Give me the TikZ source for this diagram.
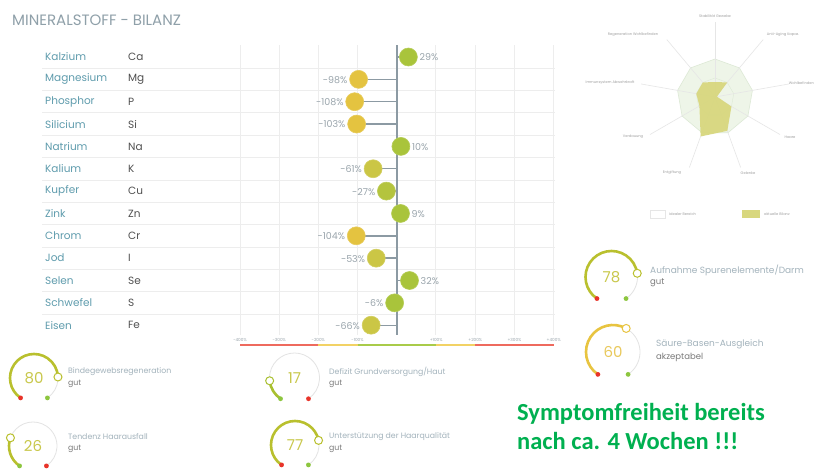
\documentclass[tikz,border=0pt]{standalone}
\usepackage{fontspec}
\setmainfont{Poppins}
\newfontfamily\calib{Carlito}
\definecolor{titlec}{HTML}{8FA0A9}
\definecolor{namec}{HTML}{5F9CAD}
\definecolor{symc}{HTML}{505050}
\definecolor{gridc}{HTML}{EDEDED}
\definecolor{axisc}{HTML}{8C9AA3}
\definecolor{valc}{HTML}{9AA5AC}
\definecolor{dgreen}{HTML}{A9C43B}
\definecolor{dlime}{HTML}{B4C43E}
\definecolor{dyellow}{HTML}{E4C340}
\definecolor{dolive}{HTML}{CBC645}
\definecolor{barred}{HTML}{EE6A5E}
\definecolor{baryellow}{HTML}{F2D265}
\definecolor{bargreen}{HTML}{A9CB4A}
\definecolor{spokec}{HTML}{E6E6E6}
\definecolor{idealfill}{HTML}{EEF5E8}
\definecolor{idealline}{HTML}{DDE9D6}
\definecolor{actualfill}{HTML}{D8D77E}
\definecolor{radtext}{HTML}{A0A0A0}
\definecolor{gaugegray}{HTML}{E3E3E3}
\definecolor{gtitle}{HTML}{A3B3BC}
\definecolor{gsub}{HTML}{7A7A7A}
\definecolor{gred}{HTML}{E8342A}
\definecolor{ggreen}{HTML}{8DC63F}
\definecolor{arcolive}{HTML}{B9C02E}
\definecolor{arcgreen}{HTML}{A9C030}
\definecolor{arcyellow}{HTML}{E8C440}
\definecolor{numolive}{HTML}{C9C84C}
\definecolor{numyellow}{HTML}{E9C95C}
\definecolor{bigtext}{HTML}{00B050}
\tikzset{
  namestyle/.style={anchor=west, inner sep=0pt, text=namec, font=\fontsize{10.5}{12}\selectfont},
  symstyle/.style={anchor=west, inner sep=0pt, text=symc, font=\fontsize{10.5}{12}\selectfont},
  gridline/.style={draw=gridc, line width=0.8pt},
  stem/.style={draw=axisc, line width=1.4pt},
  dotnode/.style={circle, minimum size=18pt, inner sep=0pt},
  valstyle/.style={inner sep=0pt, text=valc, font=\fontsize{9.5}{11}\selectfont},
  tickstyle/.style={inner sep=0pt, text=valc, font=\fontsize{4.2}{5}\selectfont},
  radlabel/.style={inner sep=0pt, text=radtext, font=\fontsize{3.6}{4}\selectfont},
  gtitlestyle/.style={anchor=west, inner sep=0pt, text=gtitle},
  gsubstyle/.style={anchor=west, inner sep=0pt, text=gsub},
}
% cx, cy, value, arc colour, number colour, left dot, right dot, radius
\newcommand{\gaugedraw}[8]{%
  \draw[gaugegray, line width=0.8pt] (#1,#2) ++(124:#8) arc[start angle=124, end angle=416, radius=#8];
  \draw[#4, line width=2.6pt] (#1,#2) ++(124:#8) arc[start angle=124, end angle={124+2.92*#3}, radius=#8];
  \draw[#4, line width=1pt, fill=white] (#1,#2) ++({124+2.92*#3}:#8) circle[radius=4];
  \fill[#6] (#1,#2) ++(124:#8) circle[radius=2.4];
  \fill[#7] (#1,#2) ++(56:#8) circle[radius=2.4];
  \node[inner sep=0pt, text=#5, font=\fontsize{15}{16}\selectfont] (g#3) at (#1,#2) {#3};
}
\begin{document}
\begin{tikzpicture}[x=1pt,y=-1pt]
\useasboundingbox (0,0) rectangle (815,469);
\fill[white] (0,0) rectangle (815,469);

% title
\node[anchor=west, inner sep=0pt, text=titlec, font=\fontsize{15}{16}\selectfont] (title) at (12,20) {MINERALSTOFF - BILANZ};

% grid
\foreach \k in {0,...,8} {
  \draw[gridline] ({240+39.17*\k},45) -- ({240+39.17*\k},335);
}
\foreach \k in {1,...,12} {
  \draw[gridline] (42,{45.8+22.35*\k}) -- (555,{45.8+22.35*\k});
}
\draw[axisc, line width=1.3pt] (397,45) -- (397,335);

% rows
\foreach \nm/\sy/\v/\c/\anc/\off [count=\i from 0] in {
  Kalzium/Ca/29/dgreen/west/11,
  Magnesium/Mg/-98/dyellow/east/-11,
  Phosphor/P/-108/dyellow/east/-11,
  Silicium/Si/-103/dyellow/east/-11,
  Natrium/Na/10/dgreen/west/11,
  Kalium/K/-61/dolive/east/-11,
  Kupfer/Cu/-27/dlime/east/-11,
  Zink/Zn/9/dgreen/west/11,
  Chrom/Cr/-104/dyellow/east/-11,
  Jod/I/-53/dolive/east/-11,
  Selen/Se/32/dgreen/west/11,
  Schwefel/S/-6/dgreen/east/-11,
  Eisen/Fe/-66/dolive/east/-11} {
  \pgfmathsetmacro\yy{57+22.35*\i}
  \pgfmathsetmacro\xx{397+0.3917*\v}
  \node[namestyle] (n\i) at (45,\yy) {\nm};
  \node[symstyle] (s\i) at (128,\yy) {\sy};
  \coordinate (a\i) at (397,\yy);
  \coordinate (p\i) at (\xx,\yy);
  \draw[stem] (a\i) -- (p\i);
  \node[dotnode, fill=\c, draw=\c!85!white, line width=0.6pt] (d\i) at (p\i) {};
  \node[valstyle, anchor=\anc] (v\i) at ({\xx+\off},{\yy+0.5}) {\v\%};
}

% scale labels and colour bar
\foreach \t/\lab [count=\j] in {240/-400\%, 279.2/-300\%, 318.3/-200\%, 357.5/-100\%, 436.2/+100\%, 475.3/+200\%, 514.5/+300\%, 553.7/+400\%} {
  \node[tickstyle] (tk\j) at (\t,340) {\lab};
}
\coordinate (b0) at (240,344.5);
\coordinate (b1) at (318.3,344.5);
\coordinate (b2) at (357.5,344.5);
\coordinate (b3) at (436.2,344.5);
\coordinate (b4) at (475.3,344.5);
\coordinate (b5) at (553.7,344.5);
\draw[barred, line width=2pt] (b0) -- (b1);
\draw[baryellow, line width=2pt] (b1) -- (b2);
\draw[bargreen, line width=2pt] (b2) -- (b3);
\draw[baryellow, line width=2pt] (b3) -- (b4);
\draw[barred, line width=2pt] (b4) -- (b5);

% radar chart
\begin{scope}[shift={(715,97)}]
  \fill[idealfill] ({-90}:38) \foreach \a in {40,80,...,320} {-- ({\a-90}:38)} -- cycle;
  \draw[idealline, line width=0.6pt] ({-90}:38) \foreach \a in {40,80,...,320} {-- ({\a-90}:38)} -- cycle;
  \draw[idealline, line width=0.4pt] ({-90}:19) \foreach \a in {40,80,...,320} {-- ({\a-90}:19)} -- cycle;
  \foreach \a in {0,40,...,320} {
    \draw[spokec, line width=0.6pt] (0,0) -- ({\a-90}:75);
  }
  \fill[actualfill, opacity=0.95] ({0-90}:15) -- ({40-90}:19) -- ({80-90}:2) -- ({120-90}:19) -- ({160-90}:36) -- ({200-90}:42) -- ({240-90}:18) -- ({280-90}:19) -- ({320-90}:19) -- cycle;
\end{scope}
\node[radlabel] (r0) at (715,16) {Stabilität Gewebe};
\node[radlabel] (r1) at (783,35) {Anti-Aging Kapaz.};
\node[radlabel, anchor=east] (r2) at (814,83) {Wohlbefinden};
\node[radlabel] (r3) at (790,137) {Haare};
\node[radlabel] (r4) at (748,173) {Gelenke};
\node[radlabel] (r5) at (672,173) {Entgiftung};
\node[radlabel] (r6) at (633,137) {Verdauung};
\node[radlabel] (r7) at (610,83) {Immunsystem Abwehrkraft};
\node[radlabel] (r8) at (633,35) {Regeneration Wohlbefinden};
\draw[spokec, line width=0.6pt] (650,210) rectangle (665,218);
\node[radlabel, anchor=west] (l1) at (669,214) {idealer Bereich};
\fill[actualfill] (742,210) rectangle (760,218);
\node[radlabel, anchor=west] (l2) at (764,214) {aktuelle Bilanz};

% gauges
\gaugedraw{611.5}{277}{78}{arcolive}{numolive}{gred}{ggreen}{26}
\node[gtitlestyle, font=\fontsize{9}{10}\selectfont] (t78) at (650,270) {Aufnahme Spurenelemente/Darm};
\node[gsubstyle, font=\fontsize{8.5}{10}\selectfont] (u78) at (650,283) {gut};

\gaugedraw{613}{352}{60}{arcyellow}{numyellow}{gred}{ggreen}{27}
\node[gtitlestyle, font=\fontsize{9}{10}\selectfont] (t60) at (656,344) {Säure-Basen-Ausgleich};
\node[gsubstyle, font=\fontsize{8.5}{10}\selectfont] (u60) at (656,357) {akzeptabel};

\gaugedraw{34}{378}{80}{arcolive}{numolive}{gred}{ggreen}{24}
\node[gtitlestyle, font=\fontsize{7.8}{9}\selectfont] (t80) at (68,372) {Bindegewebsregeneration};
\node[gsubstyle, font=\fontsize{7.8}{9}\selectfont] (u80) at (68,384) {gut};

\gaugedraw{33}{446}{26}{arcolive}{numolive}{ggreen}{gred}{24}
\node[gtitlestyle, font=\fontsize{7.8}{9}\selectfont] (t26) at (68,437) {Tendenz Haarausfall};
\node[gsubstyle, font=\fontsize{7.8}{9}\selectfont] (u26) at (68,449) {gut};

\gaugedraw{294.5}{378}{17}{arcgreen}{numolive}{ggreen}{gred}{25}
\node[gtitlestyle, font=\fontsize{7.8}{9}\selectfont] (t17) at (329,372) {Defizit Grundversorgung/Haut};
\node[gsubstyle, font=\fontsize{7.8}{9}\selectfont] (u17) at (329,384) {gut};

\gaugedraw{295}{445}{77}{arcolive}{numolive}{gred}{ggreen}{24}
\node[gtitlestyle, font=\fontsize{7.8}{9}\selectfont] (t77) at (329,437) {Unterstützung der Haarqualität};
\node[gsubstyle, font=\fontsize{7.8}{9}\selectfont] (u77) at (329,449) {gut};

% note
\node[anchor=west, align=left, inner sep=0pt, text=bigtext, font=\calib\bfseries\fontsize{24.5}{29}\selectfont] (note) at (517,426) {Symptomfreiheit bereits\\nach ca. 4 Wochen !!!};
\end{tikzpicture}
\end{document}
